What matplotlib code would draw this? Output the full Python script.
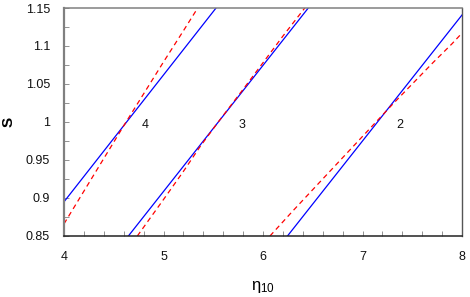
import matplotlib
matplotlib.use("Agg")
import matplotlib.pyplot as plt
from matplotlib.ticker import MultipleLocator

plt.rcParams['font.family'] = ['Liberation Sans', 'DejaVu Sans']
plt.rcParams['mathtext.fontset'] = 'custom'
plt.rcParams['mathtext.rm'] = 'Liberation Sans'
plt.rcParams['mathtext.it'] = 'Liberation Sans:italic'

# Blue straight lines (eta, S endpoints)
blue4_eta = [4.0, 5.528]
blue4_S = [0.895, 1.15]
blue3_eta = [4.647, 6.455]
blue3_S = [0.85, 1.15]
blue2_eta = [6.246, 8.0]
blue2_S = [0.85, 1.1408]

# Red dashed curves
red4_eta = [4.0, 4.2, 4.4, 4.6, 4.8, 5.0, 5.2, 5.344]
red4_S = [0.866, 0.909, 0.952, 0.995, 1.037, 1.079, 1.120, 1.15]
red3_eta = [4.737, 5.0, 5.2, 5.367, 5.55, 5.8, 6.0, 6.2, 6.42]
red3_S = [0.85, 0.898, 0.935, 0.9675, 1.0, 1.043, 1.078, 1.113, 1.15]
red2_eta = [6.07, 6.3, 6.5, 6.7, 6.9, 7.1, 7.3, 7.5, 7.7, 7.9, 8.0]
red2_S = [0.85, 0.883, 0.911, 0.939, 0.967, 0.995, 1.023, 1.050, 1.077, 1.103, 1.117]

labels = ["4", "3", "2"]
label_eta = [4.814, 5.79, 7.377]
label_S = [0.996, 0.996, 0.996]

xticks = [4, 5, 6, 7, 8]
xticklabels = ['4', '5', '6', '7', '8']
yticks = [0.85, 0.9, 0.95, 1.0, 1.05, 1.1, 1.15]
yticklabels = ['0.85', '0.9', '0.95', '1', '1.05', '1.1', '1.15']

fig = plt.figure(figsize=(4.7, 2.97), dpi=100)
ax = fig.add_axes([64/470, 1-236/297, (462-64)/470, (236-8)/297])

for e, s in [(blue4_eta, blue4_S), (blue3_eta, blue3_S), (blue2_eta, blue2_S)]:
    ax.plot(e, s, color='#0000ff', lw=0.9)
for e, s in [(red4_eta, red4_S), (red3_eta, red3_S), (red2_eta, red2_S)]:
    ax.plot(e, s, color='#ff0000', lw=0.9, dashes=(4, 3))

for t, x, y in zip(labels, label_eta, label_S):
    ax.text(x, y, t, fontsize=9, ha='center', va='center', color='#111111')

ax.set_xlim(4, 8)
ax.set_ylim(0.85, 1.15)
ax.set_xticks(xticks)
ax.set_xticklabels(xticklabels)
ax.set_yticks(yticks)
ax.set_yticklabels(yticklabels)
ax.xaxis.set_minor_locator(MultipleLocator(0.2))
ax.yaxis.set_minor_locator(MultipleLocator(0.025))

ax.tick_params(which='both', direction='in', length=3.5, width=0.6, color='#808080',
               top=False, right=False, labelsize=9, labelcolor='#111111')
ax.tick_params(axis='x', which='both', pad=11)
ax.tick_params(axis='y', which='both', pad=10)

ax.spines['left'].set_color('#808080')
ax.spines['left'].set_linewidth(1.6)
ax.spines['bottom'].set_color('#222222')
ax.spines['bottom'].set_linewidth(1.1)
ax.spines['top'].set_color('#808080')
ax.spines['top'].set_linewidth(1.1)
ax.spines['right'].set_color('#555555')
ax.spines['right'].set_linewidth(1.0)

ax.set_xlabel(r'$\mathrm{\eta_{10}}$', fontsize=12)
ax.xaxis.set_label_coords((263-64)/398, -(279-236)/228)
ax.set_ylabel('S', fontsize=11, fontweight='bold')
ax.yaxis.set_label_coords(-(64-16)/398, (236-122)/228)

fig.savefig('out.png', dpi=100)
